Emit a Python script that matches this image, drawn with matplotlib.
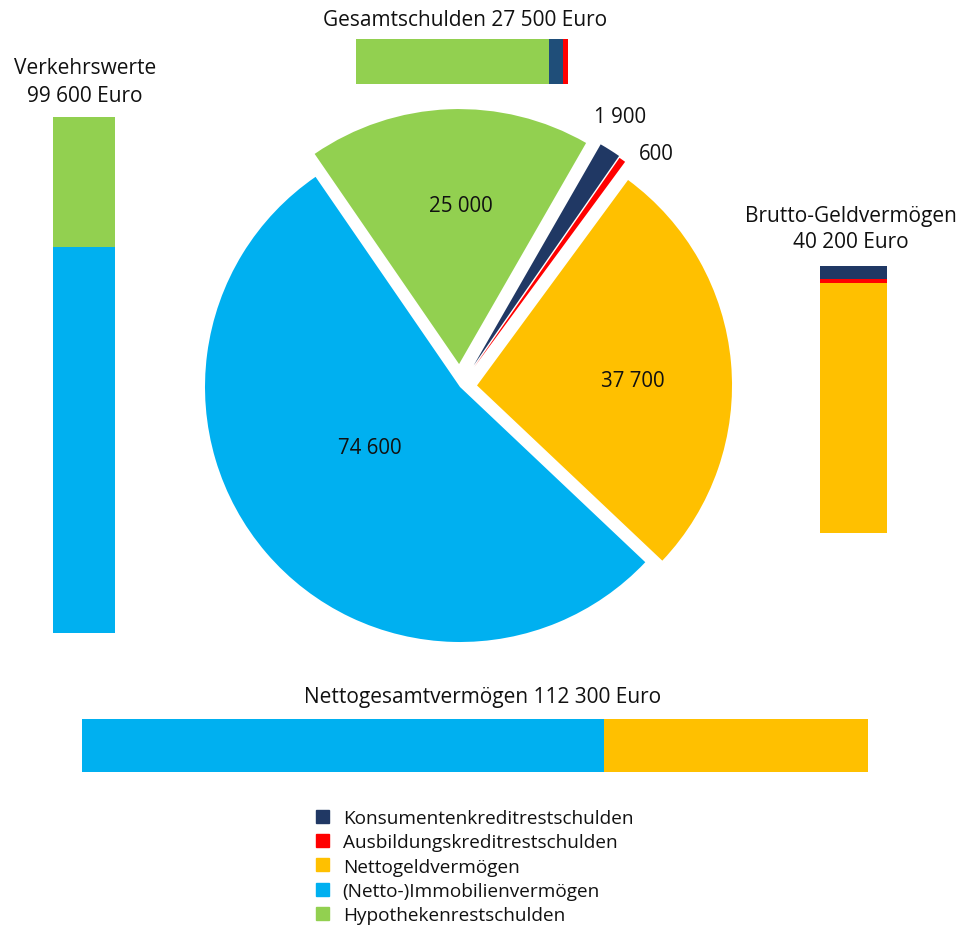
import matplotlib
matplotlib.use("Agg")
import matplotlib.pyplot as plt
from matplotlib.patches import Patch
import numpy as np

# pie slices, clockwise starting at the top left
pie_names = ["Hypothekenrestschulden", "Konsumentenkreditrestschulden",
             "Ausbildungskreditrestschulden", "Nettogeldvermögen",
             "(Netto-)Immobilienvermögen"]
pie_values = [25000, 1900, 600, 37700, 74600]
pie_text = ["25 000", "1 900", "600", "37 700", "74 600"]

# stacked bars
verkehr_values = [25000, 74600]        # Hypothek, Immobilien
schulden_values = [25000, 1900, 600]   # Hypothek, Konsum, Ausbildung
brutto_values = [1900, 600, 37700]     # Konsum, Ausbildung, Nettogeld
netto_values = [74600, 37700]          # Immobilien, Nettogeld

legend_names = ["Konsumentenkreditrestschulden", "Ausbildungskreditrestschulden",
                "Nettogeldvermögen", "(Netto-)Immobilienvermögen",
                "Hypothekenrestschulden"]

GREEN = "#92D050"
NAVY = "#203864"
NAVY2 = "#1F4E79"
RED = "#FF0000"
ORANGE = "#FFC000"
BLUE = "#00B0F0"
TXT = "#111111"

plt.rcParams['font.family'] = ['Open Sans', 'DejaVu Sans']

W, H = 965, 929
fig = plt.figure(figsize=(W / 100, H / 100), dpi=100)


def px_axes(x, y, w, h):
    return fig.add_axes([x / W, 1 - (y + h) / H, w / W, h / H])


def px_text(x, y, s, size=15, **kw):
    fig.text(x / W, 1 - y / H, s, ha="center", va="center", fontsize=size,
             color=TXT, **kw)


def stacked(ax, values, colors, horizontal=False):
    starts = np.concatenate([[0], np.cumsum(values)[:-1]])
    total = sum(values)
    if horizontal:
        ax.barh([0] * len(values), values, left=starts, height=1, color=colors,
                linewidth=0)
        ax.set_xlim(0, total)
        ax.set_ylim(-0.5, 0.5)
    else:
        ax.bar([0] * len(values), values, bottom=starts, width=1, color=colors,
               linewidth=0)
        ax.set_ylim(total, 0)
        ax.set_xlim(-0.5, 0.5)
    ax.axis("off")


# pie
R = 255.0
half = 320
cx, cy = 460, 388
ax = px_axes(cx - half, cy - half, 2 * half, 2 * half)
wedges, _ = ax.pie(pie_values, colors=[GREEN, NAVY, RED, ORANGE, BLUE],
                   startangle=124.5, counterclock=False,
                   explode=[0.09, 0.1, 0.095, 0.067, 0],
                   wedgeprops=dict(linewidth=0))
ax.set_xlim(-half / R, half / R)
ax.set_ylim(-half / R, half / R)
ax.axis("off")

label_pos = [(0.004, 0.710), (0.627, 1.059), (0.769, 0.914),
             (0.678, 0.024), (-0.353, -0.239)]
for txt, (lx, ly) in zip(pie_text, label_pos):
    ax.text(lx, ly, txt, ha="center", va="center", fontsize=14.8, color=TXT)

# Verkehrswerte
ax1 = px_axes(53, 118, 62, 516)
stacked(ax1, verkehr_values, [GREEN, BLUE])
px_text(85, 68, "Verkehrswerte")
px_text(85, 97, "99 600 Euro")

# Gesamtschulden
ax2 = px_axes(356, 40, 212, 45)
stacked(ax2, schulden_values, [GREEN, NAVY2, RED], horizontal=True)
px_text(465, 20, "Gesamtschulden 27 500 Euro")

# Brutto-Geldvermoegen
ax3 = px_axes(820, 267, 67, 267)
stacked(ax3, brutto_values, [NAVY, RED, ORANGE])
px_text(851, 217, "Brutto-Geldvermögen")
px_text(851, 242, "40 200 Euro")

# Nettogesamtvermoegen
ax4 = px_axes(82, 720, 786, 53)
stacked(ax4, netto_values, [BLUE, ORANGE], horizontal=True)
px_text(483, 698, "Nettogesamtvermögen 112 300 Euro")

handles = [Patch(color=c) for c in [NAVY, RED, ORANGE, BLUE, GREEN]]
fig.legend(handles, legend_names, loc="upper left",
           bbox_to_anchor=(316 / W, 1 - 810 / H), frameon=False,
           fontsize=13.7, handlelength=0.68, handleheight=0.68,
           handletextpad=0.72, labelspacing=0.33, borderpad=0,
           borderaxespad=0, labelcolor=TXT)

fig.savefig("out.png", dpi=100)
